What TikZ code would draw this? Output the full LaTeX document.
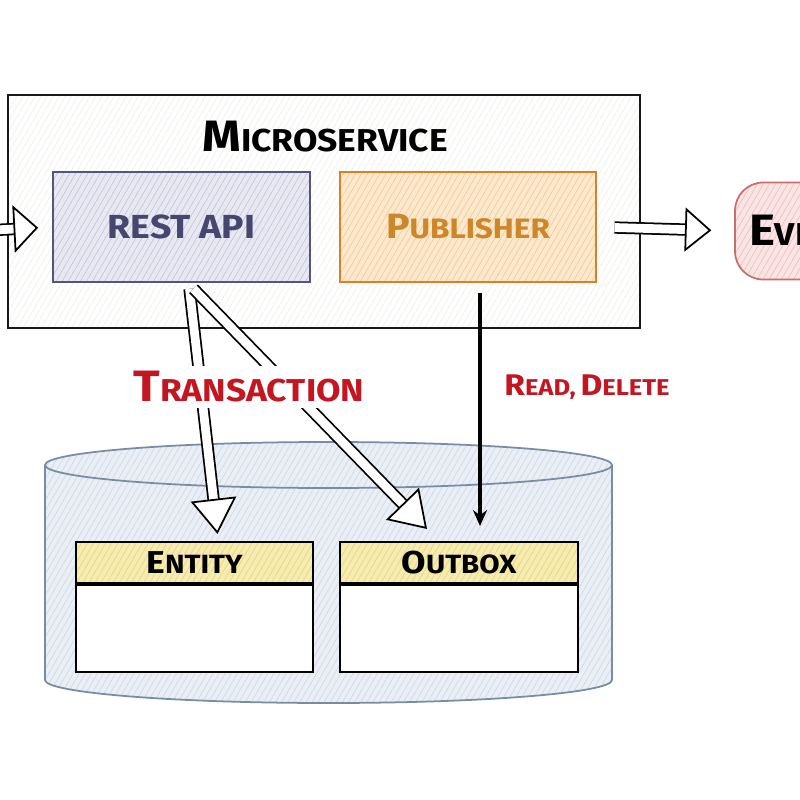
\documentclass[tikz,border=0pt]{standalone}
\usepackage{fontspec}
\setmainfont[FakeStretch=1.12]{Fira Sans}
\usepackage{tikz}
\usetikzlibrary{arrows.meta, positioning, calc, patterns.meta}
\definecolor{msframe}{RGB}{25,25,25}
\definecolor{mshatch}{RGB}{238,238,232}
\definecolor{restdraw}{RGB}{85,85,120}
\definecolor{restfill}{RGB}{232,232,243}
\definecolor{resthatch}{RGB}{195,195,215}
\definecolor{resttext}{RGB}{70,70,110}
\definecolor{pubdraw}{RGB}{215,130,40}
\definecolor{pubfill}{RGB}{252,233,205}
\definecolor{pubhatch}{RGB}{240,200,150}
\definecolor{pubtext}{RGB}{205,135,40}
\definecolor{evdraw}{RGB}{200,110,110}
\definecolor{evfill}{RGB}{250,228,228}
\definecolor{evhatch}{RGB}{235,190,190}
\definecolor{txred}{RGB}{196,22,32}
\definecolor{dbdraw}{RGB}{120,140,165}
\definecolor{dbfill}{RGB}{234,239,246}
\definecolor{dbhatch}{RGB}{205,215,228}
\definecolor{hdrfill}{RGB}{246,236,175}
\definecolor{hdrhatch}{RGB}{228,212,130}
\newcommand{\sctext}[4]{{\fontsize{#1}{#1}\selectfont #3}{\fontsize{#2}{#2}\selectfont #4}}
\tikzset{
  hatchfill/.style 2 args={preaction={fill=#1},
    preaction={pattern={Lines[angle=60,distance=3pt,line width=0.35pt]}, pattern color=#2}},
  msbox/.style={rectangle, draw=msframe, hatchfill={white}{mshatch},
    minimum width=12.64cm, minimum height=4.66cm, line width=1.6pt},
  restbox/.style={rectangle, draw=restdraw, hatchfill={restfill}{resthatch},
    minimum width=5.14cm, minimum height=2.2cm, text=resttext,
    font=\bfseries, line width=1pt},
  pubbox/.style={rectangle, draw=pubdraw, hatchfill={pubfill}{pubhatch},
    minimum width=5.12cm, minimum height=2.2cm, text=pubtext,
    font=\bfseries, line width=1pt},
  evpill/.style={rectangle, draw=evdraw, hatchfill={evfill}{evhatch},
    minimum width=3.1cm, minimum height=1.94cm, rounded corners=16pt,
    font=\bfseries, line width=1pt},
  tblhead/.style={rectangle, draw=black, hatchfill={hdrfill}{hdrhatch},
    minimum width=4.74cm, minimum height=0.82cm, font=\bfseries,
    line width=1.2pt},
  tblbody/.style={rectangle, draw=black, fill=white,
    minimum width=4.74cm, minimum height=1.74cm, line width=1.2pt},
  hollow/.style={double=white, double distance=5pt, line width=1pt, draw=black,
    -{Triangle[fill=white, length=20pt, width=26pt]}},
  rdarrow/.style={-{Stealth[length=9pt, width=8pt]}, line width=2.2pt, draw=black},
  redlabel/.style={text=txred, font=\bfseries}
}

\begin{document}
\begin{tikzpicture}[x=0.02cm, y=-0.02cm]
  \useasboundingbox (0,0) rectangle (800,800);
  \clip (0,0) rectangle (800,800);

  % database
  \path[hatchfill={dbfill}{dbhatch}]
    (45,465) -- (45,680) arc[start angle=180, end angle=0, x radius=283.5, y radius=23]
    -- (612,465) arc[start angle=0, end angle=-180, x radius=283.5, y radius=23] -- cycle;
  \draw[draw=dbdraw, line width=1pt]
    (45,465) -- (45,680) arc[start angle=180, end angle=0, x radius=283.5, y radius=23]
    -- (612,465);
  \draw[draw=dbdraw, line width=1pt] (328.5,465) ellipse[x radius=283.5, y radius=23];

  \node[tblhead] (ent) at (194.5,562.5) {\sctext{18pt}{15pt}{E}{NTITY}};
  \node[tblbody, below=0pt of ent] (entbody) {};
  \node[tblhead, minimum width=4.76cm] (obx) at (459,562.5) {\sctext{18pt}{15pt}{O}{UTBOX}};
  \node[tblbody, minimum width=4.76cm, below=0pt of obx] (obxbody) {};

  % service
  \node[msbox] (ms) at (324,211.5) {};
  \node[font=\bfseries] (mstitle) at (325,137) {\sctext{25pt}{18pt}{M}{ICROSERVICE}};
  \node[restbox] (rest) at (181.5,227) {\fontsize{19pt}{19pt}\selectfont REST API};
  \node[pubbox] (pub) at (468,227) {\sctext{20pt}{16pt}{P}{UBLISHER}};
  \node[evpill] (ev) at (812.5,231) {\sctext{25pt}{18pt}{E}{VENTS}};

  \coordinate (in) at (-5,230);
  \draw[hollow, -{Triangle[fill=white, length=14pt, width=27pt]}, shorten >=8] (in) -- (rest.west);
  \draw[hollow, -{Triangle[fill=white, length=15pt, width=25pt]}, shorten <=10, shorten >=13] (pub.east) -- (ev.west);

  \draw[hollow] ($(rest.south)+(8,6)$) -- ($(ent.north)+(23,-7)$);
  \draw[hollow] ($(rest.south)+(12,6)$) -- ($(obx.north)+(-32,-12)$);
  \draw[rdarrow] ($(pub.south)+(12,10)$) -- ($(obx.north)+(21,-15)$);

  \node[redlabel, fill=white, inner sep=3pt] (tx) at (249,387) {\sctext{25pt}{18pt}{T}{RANSACTION}};
  \node[redlabel] (rd) at (587,387) {\sctext{17pt}{13pt}{R}{EAD,} \sctext{17pt}{13pt}{D}{ELETE}};
\end{tikzpicture}
\end{document}
